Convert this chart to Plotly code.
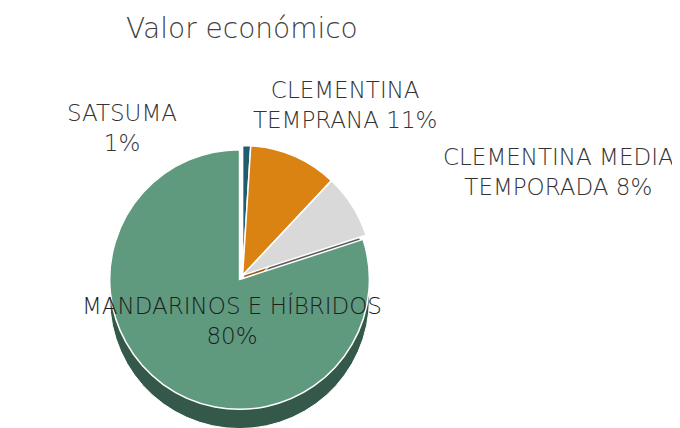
import plotly.graph_objects as go

# Valor económico por grupo varietal
labels = ["SATSUMA", "CLEMENTINA TEMPRANA", "CLEMENTINA MEDIA TEMPORADA", "MANDARINOS E HÍBRIDOS"]
values = [1, 11, 8, 80]
label_lines = ["SATSUMA<br>{}%", "CLEMENTINA<br>TEMPRANA {}%", "CLEMENTINA MEDIA<br>TEMPORADA {}%",
               "MANDARINOS E HÍBRIDOS<br>{}%"]
label_colors = ["#333333", "#333333", "#333333", "#1e1e1e"]

top_colors = ["#1f5c70", "#da8212", "#d9d9d9", "#5f9a7f"]
side_colors = ["#123845", "#9c5c0c", "#5e5e5e", "#34594a"]
pull = [0, 0, 0, 0.04]

dom_x = [0.13, 0.56]
dom_y = [0.06, 0.691]
shift = 0.045

FONT = "DejaVu Sans, Open Sans, sans-serif"

fig = go.Figure()

# "profundidad": la misma tarta, más oscura y desplazada hacia abajo
fig.add_trace(go.Pie(
    labels=labels, values=values, sort=False, direction="clockwise", rotation=0,
    pull=pull, marker=dict(colors=side_colors, line=dict(color="white", width=1)),
    textinfo="none", hoverinfo="skip", showlegend=False,
    domain=dict(x=dom_x, y=[dom_y[0] - shift, dom_y[1] - shift]),
))

fig.add_trace(go.Pie(
    labels=labels, values=values, sort=False, direction="clockwise", rotation=0,
    pull=pull, marker=dict(colors=top_colors, line=dict(color="white", width=1.5)),
    textinfo="none", showlegend=False,
    domain=dict(x=dom_x, y=dom_y),
))

# posiciones de las etiquetas (papel)
lab_pos = [(0.168, 0.720), (0.496, 0.773), (0.810, 0.617), (0.329, 0.271)]
for txt, v, c, (x, y) in zip(label_lines, values, label_colors, lab_pos):
    fig.add_annotation(x=x, y=y, xref="paper", yref="paper", text=txt.format(v),
                       xanchor="center", yanchor="middle", showarrow=False,
                       font=dict(size=23, color=c, weight=300))

fig.update_layout(
    width=680, height=428,
    paper_bgcolor="white",
    font=dict(family=FONT, size=23, color="#333333"),
    margin=dict(l=0, r=0, t=0, b=0),
    title=dict(text="Valor económico", x=0.344, xanchor="center", y=0.953, yanchor="middle",
               font=dict(size=28, color="#404040", weight=300)),
)

fig.write_html("out.html")
